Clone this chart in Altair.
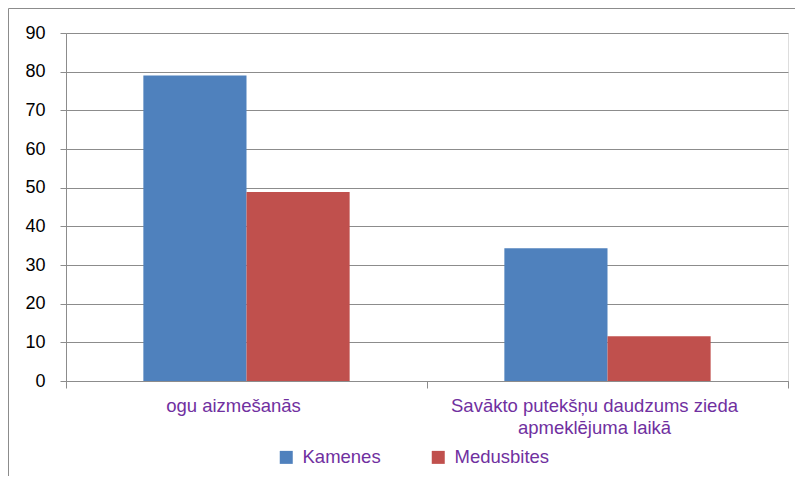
import altair as alt
import pandas as pd

categories = ["ogu aizmešanās", "Savākto putekšņu daudzums zieda apmeklējuma laikā"]
category_labels = ["ogu aizmešanās", "Savākto putekšņu daudzums zieda\napmeklējuma laikā"]
series = ["Kamenes", "Medusbites"]
kamenes = [79, 34.3]
medusbites = [48.9, 11.6]
y_ticks = [0, 10, 20, 30, 40, 50, 60, 70, 80, 90]
colors = ["#4F81BD", "#C0504D"]

rows = []
for i, c in enumerate(categories):
    rows.append({"cat": c, "series": series[0], "value": kamenes[i]})
    rows.append({"cat": c, "series": series[1], "value": medusbites[i]})
df = pd.DataFrame(rows)
df_labels = pd.DataFrame({"cat": categories, "label": category_labels})

purple = "#7030A0"
gray = "#8c8c8c"

x_enc = alt.X("cat:N", sort=categories, title=None,
              scale=alt.Scale(paddingInner=0, paddingOuter=0),
              axis=alt.Axis(labels=False, tickBand="extent", tickSize=7,
                            tickColor=gray, domainColor=gray, grid=False))

bars = alt.Chart(df).mark_bar().encode(
    x=x_enc,
    xOffset=alt.XOffset("series:N", sort=series,
                        scale=alt.Scale(paddingInner=0, paddingOuter=0.75)),
    y=alt.Y("value:Q", title=None,
            scale=alt.Scale(domain=[0, 90], nice=False),
            axis=alt.Axis(values=y_ticks, labelFontSize=18, labelColor="#000000",
                          labelFont="Liberation Sans",
                          labelPadding=15, tickSize=6, tickColor=gray,
                          domainColor=gray, gridColor=gray, gridWidth=1.2,
                          gridOpacity=1)),
    color=alt.Color("series:N", sort=series,
                    scale=alt.Scale(domain=series, range=colors),
                    legend=alt.Legend(title=None, orient="none", legendX=211, legendY=415,
                                      direction="horizontal", symbolType="square",
                                      symbolSize=169, symbolStrokeWidth=0,
                                      labelFontSize=18.5, labelColor=purple,
                                      labelFont="Liberation Sans", columnPadding=48,
                                      labelOffset=7)),
)

xlabels = alt.Chart(df_labels).mark_text(
    baseline="top", align="center", dx=-13, fontSize=18.5, font="Liberation Sans",
    color=purple, lineBreak="\n", lineHeight=22,
).encode(x=x_enc, y=alt.value(364), text="label:N")

frame_top = alt.Chart(alt.Data(values=[{}])).mark_rule(color=gray, strokeWidth=1).encode(
    x=alt.value(-57.5), x2=alt.value(800), y=alt.value(-24.5))
frame_left = alt.Chart(alt.Data(values=[{}])).mark_rule(color=gray, strokeWidth=1).encode(
    x=alt.value(-57.5), y=alt.value(-24.5), y2=alt.value(500))

chart = alt.layer(bars, xlabels, frame_top, frame_left).properties(
    width=722, height=348,
    padding={"left": 58, "top": 25, "right": 7, "bottom": 95},
    autosize=alt.AutoSizeParams(type="none"),
).configure_view(stroke=None).configure(background="white")

chart.save("out.html", embed_options={"renderer": "svg", "actions": False})
